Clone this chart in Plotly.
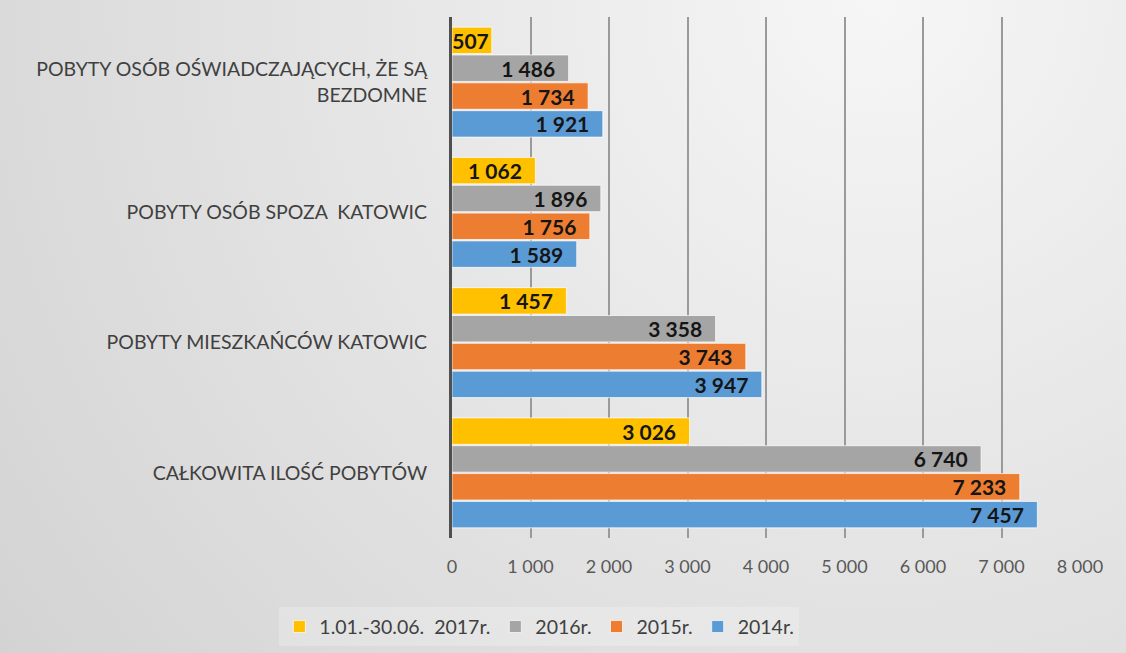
import plotly.graph_objects as go

categories = [
    "CAŁKOWITA ILOŚĆ POBYTÓW",
    "POBYTY MIESZKAŃCÓW KATOWIC",
    "POBYTY OSÓB SPOZA  KATOWIC",
    "POBYTY OSÓB OŚWIADCZAJĄCYCH, ŻE SĄ<br>BEZDOMNE",
]
series_names = ["2014r.", "2015r.", "2016r.", "1.01.-30.06.  2017r."]
v2014 = [7457, 3947, 1589, 1921]
v2015 = [7233, 3743, 1756, 1734]
v2016 = [6740, 3358, 1896, 1486]
v2017 = [3026, 1457, 1062, 507]
tick_values = [0, 1000, 2000, 3000, 4000, 5000, 6000, 7000, 8000]
tick_labels = ["0", "1 000", "2 000", "3 000", "4 000", "5 000", "6 000", "7 000", "8 000"]

colors = ["#5B9BD5", "#ED7D31", "#A5A5A5", "#FFC000"]
FONT = "Lato, Open Sans, sans-serif"


def fmt(v):
    return f"{v:,}".replace(",", " ")


fig = go.Figure()
for name, vals, col in zip(series_names, [v2014, v2015, v2016, v2017], colors):
    fig.add_trace(go.Bar(
        y=categories, x=vals, name=name, orientation="h",
        marker=dict(color=col, line=dict(color="rgba(255,255,255,0.7)", width=1)),
        text=[fmt(v) for v in vals],
        texttemplate=["%{text}\u2002" if v > 800 else "%{text}" for v in vals],
        textposition="inside", insidetextanchor="end", constraintext="none",
        textfont=dict(family=FONT, size=21, color="#151515", weight="bold"),
        cliponaxis=False,
    ))

fig.update_layout(
    width=1126, height=653,
    barmode="group", bargap=0.145, bargroupgap=0.05,
    paper_bgcolor="rgba(0,0,0,0)", plot_bgcolor="rgba(0,0,0,0)",
    margin=dict(l=452, r=46, t=17, b=115, pad=0, autoexpand=False),
    font=dict(family=FONT, color="#404040"),
    legend=dict(
        orientation="h", xref="container", yref="container",
        x=0.479, xanchor="center", y=0.04, yanchor="middle",
        traceorder="reversed", bgcolor="rgba(255,255,255,0.22)",
        font=dict(size=19.5, color="#404040"),
        itemwidth=30,
    ),
    showlegend=True,
)
fig.update_xaxes(
    range=[0, 8000], tickvals=tick_values, ticktext=tick_labels,
    showgrid=True, gridcolor="#9a9a9a", gridwidth=1.5, zeroline=False,
    tickfont=dict(size=18, color="#595959"), ticks="", showline=False,
    ticklabelstandoff=16, automargin=False,
)
fig.update_yaxes(
    categoryorder="array", categoryarray=categories,
    showline=True, linecolor="#505050", linewidth=3,
    tickfont=dict(size=19.5, color="#404040"), ticks="", ticklabelstandoff=18,
    automargin=False,
)

post = (
    "document.body.style.margin='0';"
    "document.body.style.background='radial-gradient(circle at 78% 0%, #f6f6f6 0%, #e8e8e8 40%, #d3d3d3 100%)';"
    "document.documentElement.style.background='#d8d8d8';"
)
fig.write_html("out.html", post_script=post, config={"displayModeBar": False})
